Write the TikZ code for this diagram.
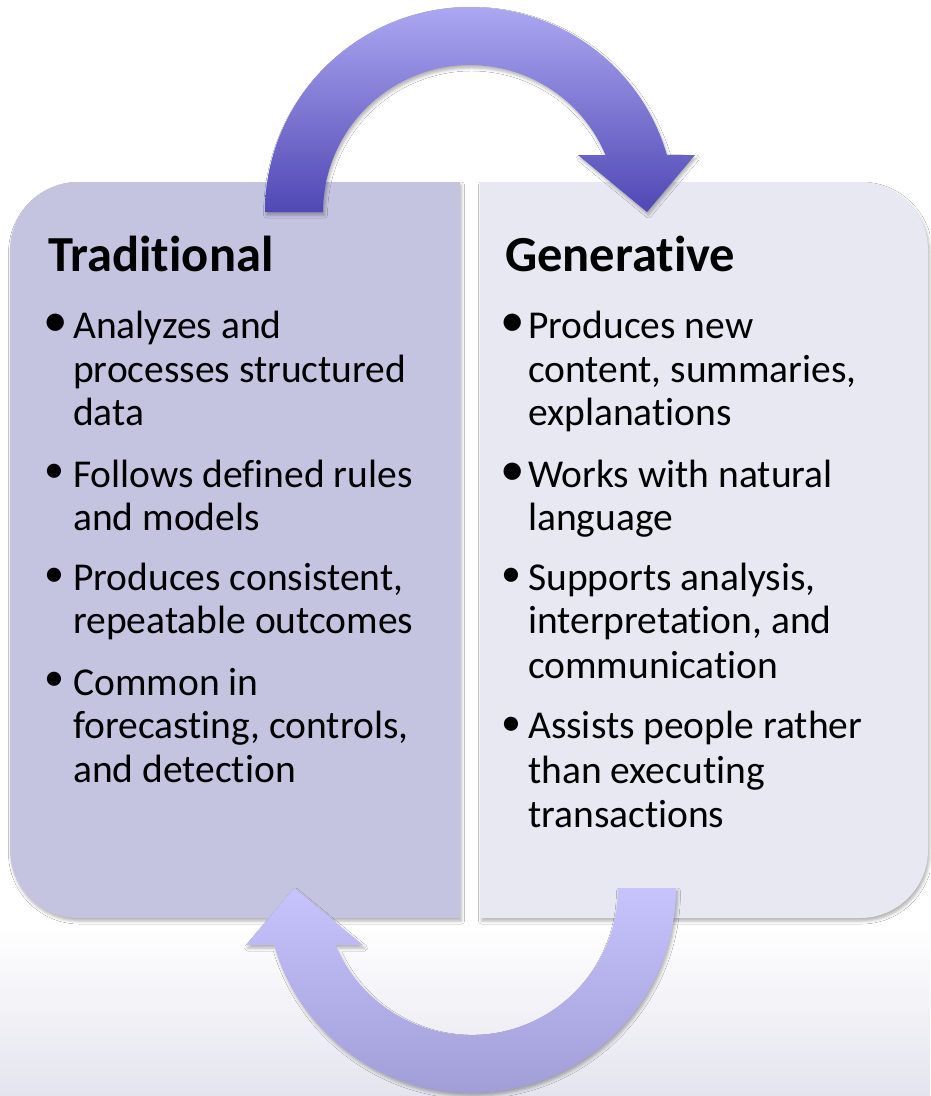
\documentclass[tikz,border=0pt]{standalone}
\usepackage{fontspec}
\setmainfont{Carlito}[Ligatures={NoCommon,NoContextual}]
\usetikzlibrary{shadows.blur}
\definecolor{boxL}{RGB}{196,196,225}
\definecolor{boxR}{RGB}{232,232,242}
\definecolor{arrTopT}{RGB}{171,167,241}
\definecolor{arrTopB}{RGB}{80,72,180}
\definecolor{arrBotT}{RGB}{199,196,253}
\definecolor{arrBotB}{RGB}{161,157,215}
\definecolor{bgBot}{RGB}{228,228,238}
\begin{document}
\begin{tikzpicture}[x=1pt,y=-1pt,
  titletext/.style={anchor=base west, inner sep=0pt, font=\fontsize{50.5}{60}\selectfont\bfseries},
  body/.style={anchor=base west, inner sep=0pt, font=\fontsize{39.5}{48}\selectfont},
  bigbul/.style={anchor=center, inner sep=0pt, font=\fontsize{49}{58}\selectfont},
  smallbul/.style={anchor=center, inner sep=0pt, font=\fontsize{40}{48}\selectfont},
  shad/.style={blur shadow={shadow xshift=1.5pt, shadow yshift=-3pt, shadow blur radius=3pt, shadow opacity=30}}
]
\useasboundingbox (0,0) rectangle (930,1096);
% background
\fill[white] (0,0) rectangle (930,1096);
\shade[top color=white, bottom color=bgBot] (0,925) rectangle (930,1096);

% boxes
\fill[boxL, shad] (460,182) -- (78,182) arc[start angle=270, end angle=180, radius=68]
  -- (10,850) arc[start angle=180, end angle=90, radius=68] -- (460,918) -- cycle;
\fill[boxR, shad] (480,182) -- (860,182) arc[start angle=270, end angle=360, radius=68]
  -- (928,850) arc[start angle=0, end angle=90, radius=68] -- (480,918) -- cycle;

% top arrow
\shade[top color=arrTopT, bottom color=arrTopB, shad]
  (265,212) arc[start angle=180, end angle=343.85, radius=205]
  -- (695,155) -- (647,212) -- (578,155)
  -- (605.5,155) arc[start angle=337.18, end angle=180, radius=147] -- cycle;

% bottom arrow
\shade[top color=arrBotT, bottom color=arrBotB, shad]
  (676,888) arc[start angle=0, end angle=163.85, radius=205]
  -- (246,945) -- (294,888) -- (363,945)
  -- (335.5,945) arc[start angle=157.18, end angle=0, radius=147] -- cycle;

% left text
\node[titletext] (tTrad) at (48,271) {Traditional};
\node[bigbul] (bL1) at (56,325) {•};
\node[body] (L1) at (73,338) {Analyzes and};
\node[body] (L2) at (73,382) {processes structured};
\node[body] (L3) at (73,425) {data};
\node[smallbul] (bL2) at (54,473) {•};
\node[body] (L4) at (73,487) {Follows defined rules};
\node[body] (L5) at (73,530) {and models};
\node[smallbul] (bL3) at (54,577) {•};
\node[body] (L6) at (73,590) {Produces consistent,};
\node[body] (L7) at (73,633) {repeatable outcomes};
\node[smallbul] (bL4) at (54,681) {•};
\node[body] (L8) at (73,695) {Common in};
\node[body] (L9) at (73,738) {forecasting, controls,};
\node[body] (L10) at (73,782) {and detection};

% right text
\node[titletext] (tGen) at (505,271) {Generative};
\node[bigbul] (bR1) at (513,325) {•};
\node[body] (R1) at (528,338) {Produces new};
\node[body] (R2) at (528,382) {content, summaries,};
\node[body] (R3) at (528,425) {explanations};
\node[bigbul] (bR2) at (513,474) {•};
\node[body] (R4) at (528,487) {Works with natural};
\node[body] (R5) at (528,530) {language};
\node[smallbul] (bR3) at (511,577) {•};
\node[body] (R6) at (528,590) {Supports analysis,};
\node[body] (R7) at (528,633) {interpretation, and};
\node[body] (R8) at (528,678) {communication};
\node[smallbul] (bR4) at (511,726) {•};
\node[body] (R9) at (528,738) {Assists people rather};
\node[body] (R10) at (528,783) {than executing};
\node[body] (R11) at (528,827) {transactions};
\end{tikzpicture}
\end{document}
